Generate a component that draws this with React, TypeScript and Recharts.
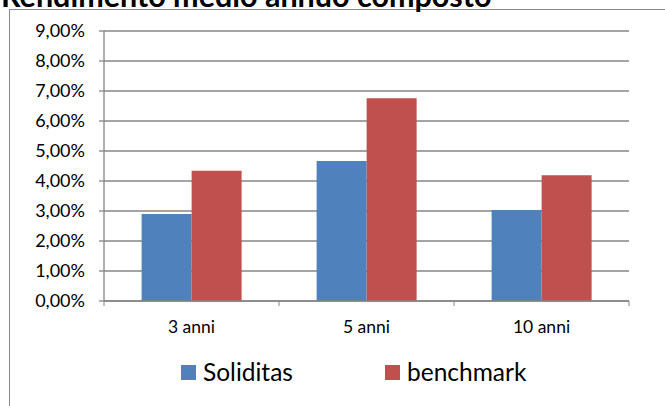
import { BarChart, Bar, XAxis, YAxis, CartesianGrid, Legend } from "recharts";

const categories = ["3 anni", "5 anni", "10 anni"];
const soliditas = [2.9, 4.67, 3.03];
const benchmark = [4.34, 6.76, 4.19];
const yTicks = [0, 1, 2, 3, 4, 5, 6, 7, 8, 9];

const data = categories.map((name, i) => ({
  name,
  soliditas: soliditas[i],
  benchmark: benchmark[i],
}));

const FONT = "Lato, Carlito, 'Open Sans', sans-serif";
const GRID = "#868686";

const fmtPct = (v: number) => `${v.toFixed(2).replace(".", ",")}%`;

// Excel puts the x ticks on the category boundaries, label in the middle
const CategoryTick = (props: any) => {
  const { x, y, payload, index, visibleTicksCount } = props;
  const half = payload?.offset || 0;
  const last = index === visibleTicksCount - 1;
  return (
    <g>
      <line x1={x - half} x2={x - half} y1={y - 5} y2={y} stroke={GRID} />
      {last && <line x1={x + half} x2={x + half} y1={y - 5} y2={y} stroke={GRID} />}
      <text x={x} y={y + 27} textAnchor="middle" fontSize={17.5} fontFamily={FONT} fill="#000">
        {payload.value}
      </text>
    </g>
  );
};

const LegendContent = (props: any) => {
  const { payload } = props;
  return (
    <div style={{ display: "flex", fontFamily: FONT, fontSize: 24.5, color: "#000", lineHeight: "24px" }}>
      {payload.map((p: any) => (
        <div key={p.value} style={{ display: "flex", alignItems: "center", width: 204 }}>
          <span style={{ width: 15, height: 15, background: p.color, marginRight: 7, display: "inline-block" }} />
          <span>{p.value}</span>
        </div>
      ))}
    </div>
  );
};

export default function App() {
  return (
    <div style={{ position: "absolute", left: 0, top: 0, width: 665, height: 406, overflow: "hidden", background: "#fff" }}>
      <div
        style={{
          position: "absolute",
          left: 9,
          top: 9,
          width: 700,
          height: 450,
          border: "1px solid #878787",
          boxSizing: "border-box",
        }}
      />
      <svg width={665} height={20} style={{ position: "absolute", left: 0, top: 0 }}>
        <text x={1} y={7} fontFamily={FONT} fontWeight="bold" fontSize={30.5} fill="#000">
          Rendimento medio annuo composto
        </text>
      </svg>
      <div style={{ position: "absolute", left: 0, top: 0 }}>
        <BarChart
          width={665}
          height={406}
          data={data}
          margin={{ top: 31, right: 36, left: 0, bottom: 75 }}
          barCategoryGap="21.5%"
          barGap={0}
        >
          <CartesianGrid vertical={false} stroke={GRID} strokeWidth={1.3} />
          <XAxis
            dataKey="name"
            height={30}
            stroke={GRID}
            strokeWidth={1.3}
            tickLine={false}
            tickSize={5}
            tickMargin={0}
            interval={0}
            tick={<CategoryTick />}
          />
          <YAxis
            width={104}
            domain={[0, 9]}
            ticks={yTicks}
            interval={0}
            tickFormatter={fmtPct}
            stroke={GRID}
            strokeWidth={1.3}
            tickSize={5}
            tickMargin={14}
            tick={{ fill: "#000", fontSize: 18, fontFamily: FONT }}
          />
          <Legend
            content={<LegendContent />}
            wrapperStyle={{ left: 181, top: 360, width: 420, height: 0 }}
          />
          <Bar dataKey="soliditas" name="Soliditas" fill="#4F81BD" isAnimationActive={false} />
          <Bar dataKey="benchmark" name="benchmark" fill="#C0504D" isAnimationActive={false} />
        </BarChart>
      </div>
    </div>
  );
}
